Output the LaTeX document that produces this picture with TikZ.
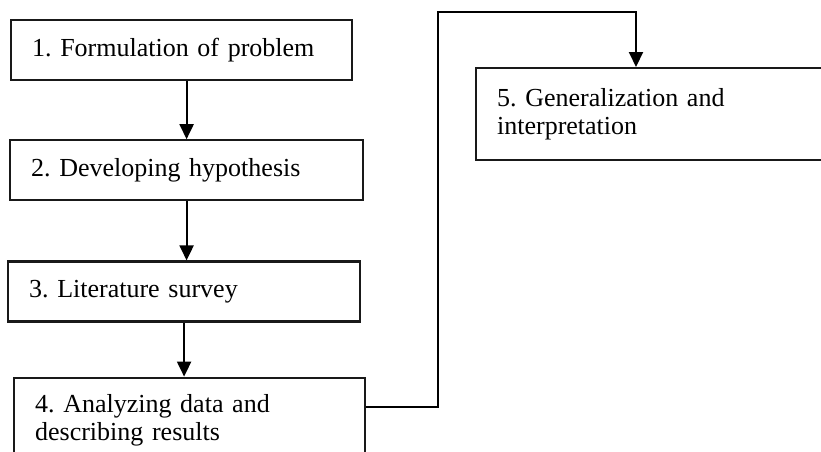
\documentclass[tikz,border=0pt]{standalone}
\usepackage{fontspec}
\setmainfont{Liberation Serif}
\frenchspacing
\usetikzlibrary{positioning,arrows.meta}

\begin{document}
\begin{tikzpicture}[x=1pt, y=1pt,
    stagenode/.style={rectangle, draw=black!90, line width=2.2pt, anchor=north west, minimum height=60pt, inner xsep=21pt, text width=#1, align=left, font=\fontsize{26}{28}\selectfont},
    flow/.style={line width=2pt, -{Triangle[length=15pt,width=14pt]}}]

    \useasboundingbox (0,0) rectangle (821,-451);
    \clip (0,0) rectangle (821,-451);

    \node[stagenode=299pt] (1) at (10,-19) {1. Formulation of problem};
    \node[stagenode=311pt] (2) [below=58pt of 1.south west, anchor=north west, xshift=-1pt] {2. Developing hypothesis};
    \node[stagenode=310pt] (3) [below=59pt of 2.south west, anchor=north west, xshift=-2pt] {3. Literature survey};
    \node[stagenode=309pt, minimum height=86pt] (4) [below=54pt of 3.south west, anchor=north west, xshift=6pt] {4. Analyzing data and\\ describing results};
    \node[stagenode=318pt, minimum height=92pt] (5) at (475,-67) {5. Generalization and\\ interpretation};

    \draw[flow] (2.north |- 1.south) -- (2.north);
    \draw[flow] (2.south) -- (2.south |- 3.north);
    \draw[flow] (3.south) -- (3.south |- 4.north);

    \coordinate (bend) at (438,-12);
    \draw[flow] ([yshift=-30pt]4.north east) -| (bend) -| ([xshift=161pt]5.north west);

\end{tikzpicture}
\end{document}
